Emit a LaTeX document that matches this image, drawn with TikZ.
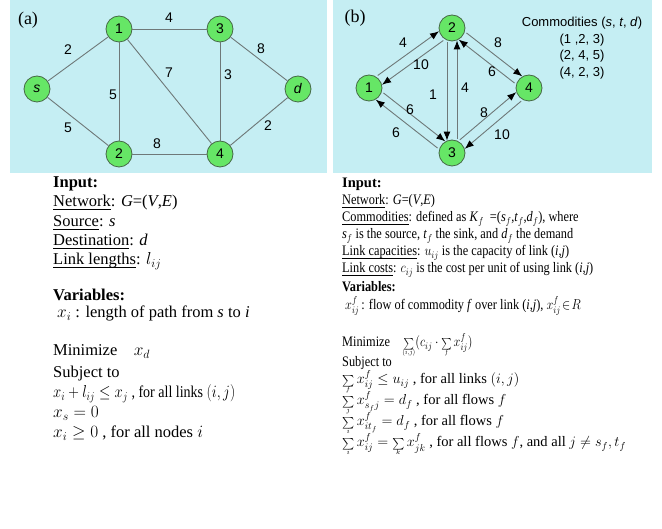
\documentclass[tikz,border=0pt]{standalone}
\usepackage{fontspec}
\setmainfont{Liberation Serif}
\newfontfamily\arialf{Liberation Sans}
\usepackage{amsmath}
\usetikzlibrary{arrows.meta}

\definecolor{panelbg}{RGB}{197,238,243}
\definecolor{nodegreen}{RGB}{102,230,102}
\definecolor{nodeline}{RGB}{70,105,70}
\definecolor{linkgray}{RGB}{110,120,120}

% small sum with tight limits
\newcommand{\smsum}[1]{\mathop{\vtop{\offinterlineskip\halign{\hfil##\hfil\cr\scalebox{0.8}{$\sum$}\cr\noalign{\kern-0.5pt}\hbox{$\scriptscriptstyle #1$}\cr}}}}
\newcommand{\cond}[1]{\scalebox{0.85}[1]{#1}}
\newcommand{\ul}[1]{\underline{\smash{#1}}}

\tikzset{
  vert/.style={circle, draw=nodeline, fill=nodegreen, line width=0.8pt, minimum size=26pt, inner sep=0pt, font=\arialf\fontsize{14}{14}\selectfont},
  link/.style={draw=linkgray, line width=0.9pt},
  arc/.style={link, -{Latex[color=black, length=9pt, width=7pt]}, shorten <=2pt},
  wt/.style={inner sep=0pt, font=\arialf\fontsize{14}{14}\selectfont},
  txt/.style={anchor=base west, inner sep=0pt, font=\fontsize{16.5}{19}\selectfont},
  txtb/.style={anchor=base west, inner sep=0pt, font=\fontsize{14.5}{16}\selectfont}
}

\begin{document}
\begin{tikzpicture}[x=1pt, y=-1pt]
\useasboundingbox (0,0) rectangle (662,529);

% Panels
\fill[panelbg] (10,0) rectangle (327,173);
\fill[panelbg] (333,0) rectangle (652,173);

% (a) shortest path
\node[font=\fontsize{18}{18}\selectfont] (tag-a) at (28,20) {(a)};

\node[vert] (s) at (37,89) {\textit{s}};
\node[vert] (a1) at (119,29) {1};
\node[vert] (a3) at (220,29) {3};
\node[vert] (d) at (298,89) {\textit{d}};
\node[vert] (a2) at (119,154) {2};
\node[vert] (a4) at (220,154) {4};

\draw[link] (s) -- (a1);
\draw[link] (s) -- (a2);
\draw[link] (a1) -- (a3);
\draw[link] (a1) -- (a2);
\draw[link] (a1) -- (a4);
\draw[link] (a3) -- (a4);
\draw[link] (a3) -- (d);
\draw[link] (a2) -- (a4);
\draw[link] (a4) -- (d);

\node[wt] (w-s1) at (68,50) {2};
\node[wt] (w-s2) at (68,128) {5};
\node[wt] (w-13) at (169,18) {4};
\node[wt] (w-12) at (113,95) {5};
\node[wt] (w-14) at (169,73) {7};
\node[wt] (w-34) at (228,75) {3};
\node[wt] (w-3d) at (261,49) {8};
\node[wt] (w-24) at (157,144) {8};
\node[wt] (w-4d) at (268,126) {2};

% (b) multi-commodity flow
\node[font=\fontsize{18}{18}\selectfont] (tag-b) at (355,18) {(b)};

\node[vert] (b2) at (452,28) {2};
\node[vert] (b1) at (369,88) {1};
\node[vert] (b4) at (529,88) {4};
\node[vert] (b3) at (452,153) {3};

\draw[arc] (b1.58) -- (b2.194);
\draw[arc] (b2.238) -- (b1.14);
\draw[arc] (b2.-16) -- (b4.120);
\draw[arc] (b4.164) -- (b2.-60);
\draw[arc] (b2.248) -- (b3.112);
\draw[arc] (b3.68) -- (b2.-68);
\draw[arc] (b1.-16) -- (b3.120);
\draw[arc] (b3.164) -- (b1.-60);
\draw[arc] (b3.62) -- (b4.198);
\draw[arc] (b4.242) -- (b3.18);

\node[wt] (c-12) at (403,43) {4};
\node[wt] (c-21) at (421,65) {10};
\node[wt] (c-24) at (498,43) {8};
\node[wt] (c-42) at (492,72) {6};
\node[wt] (c-23) at (433,95) {1};
\node[wt] (c-32) at (465,88) {4};
\node[wt] (c-13) at (410,110) {6};
\node[wt] (c-31) at (396,133) {6};
\node[wt] (c-34) at (484,113) {8};
\node[wt] (c-43) at (502,135) {10};

\node[align=center, inner sep=0pt, font=\arialf\fontsize{13}{16.5}\selectfont, anchor=north] (comm) at (582,17)
  {Commodities (\textit{s}, \textit{t}, \textit{d})\\(1 ,2, 3)\\(2, 4, 5)\\(4, 2, 3)};

% Left formulation
\node[txt] (in-a) at (53,188) {\textbf{Input:}};
\node[txt] (net-a) at (53,207) {\ul{Network}: \textit{G}=(\textit{V},\textit{E})};
\node[txt] (src-a) at (53,227) {\ul{Source}: \textit{s}};
\node[txt] (dst-a) at (53,246) {\ul{Destination}: \textit{d}};
\node[txt] (len-a) at (53,265) {\ul{Link lengths}: $l_{ij}$};
\node[txt] (var-a) at (53,301) {\textbf{Variables:}};
\node[txt] (x-a) at (57,318) {$x_i$ : length of path from \textit{s} to \textit{i}};
\node[txt] (min-a) at (53,356) {Minimize\quad $x_d$};
\node[txt] (st-a) at (53,378) {Subject to};
\node[txt] (c1-a) at (53,398) {\cond{$x_i + l_{ij} \le x_j$ , for all links $(i, j)$}};
\node[txt] (c2-a) at (53,418) {$x_s = 0$};
\node[txt] (c3-a) at (53,438) {$x_i \ge 0$ , for all nodes $i$};

% Right formulation
\node[txtb] (in-b) at (342,188) {\textbf{Input:}};
\node[txtb] (net-b) at (342,205) {\cond{\ul{Network}: \textit{G}=(\textit{V},\textit{E})}};
\node[txtb] (com-b) at (342,222) {\cond{\ul{Commodities}: defined as \textit{K}$_f$\ \ =(\textit{s}$_f$,\textit{t}$_f$,\textit{d}$_f$),\ where}};
\node[txtb] (def-b) at (342,239) {\cond{\textit{s}$_f$ is the source, \textit{t}$_f$ the sink, and \textit{d}$_f$ the demand}};
\node[txtb] (cap-b) at (342,256) {\cond{\ul{Link capacities}: $u_{ij}$ is the capacity of link (\textit{i},\textit{j})}};
\node[txtb] (cst-b) at (342,273) {\cond{\ul{Link costs}: $c_{ij}$ is the cost per unit of using link (\textit{i},\textit{j})}};
\node[txtb] (var-b) at (342,292) {\cond{\textbf{Variables:}}};
\node[txtb] (x-b) at (345,310) {\cond{$x_{ij}^f$\,: flow of commodity \textit{f} over link (\textit{i},\textit{j}), $x_{ij}^f\!\in\! R$}};
\node[txtb] (min-b) at (342,347) {\cond{Minimize\quad $\smsum{(i,j)} (c_{ij}\cdot \smsum{f} x_{ij}^f)$}};
\node[txtb] (st-b) at (342,367) {\cond{Subject to}};
\node[txtb] (c1-b) at (342,384) {$\smsum{f} x_{ij}^f \le u_{ij}$ , for all links $(i, j)$};
\node[txtb] (c2-b) at (342,405) {$\smsum{j} x_{s_f j}^f = d_f$ , for all flows $f$};
\node[txtb] (c3-b) at (342,426) {$\smsum{i} x_{i t_f}^f = d_f$ , for all flows $f$};
\node[txtb] (c4-b) at (342,447) {$\smsum{i} x_{ij}^f = \smsum{k} x_{jk}^f$ , for all flows $f$, and all $j \ne s_f, t_f$};
\end{tikzpicture}
\end{document}
